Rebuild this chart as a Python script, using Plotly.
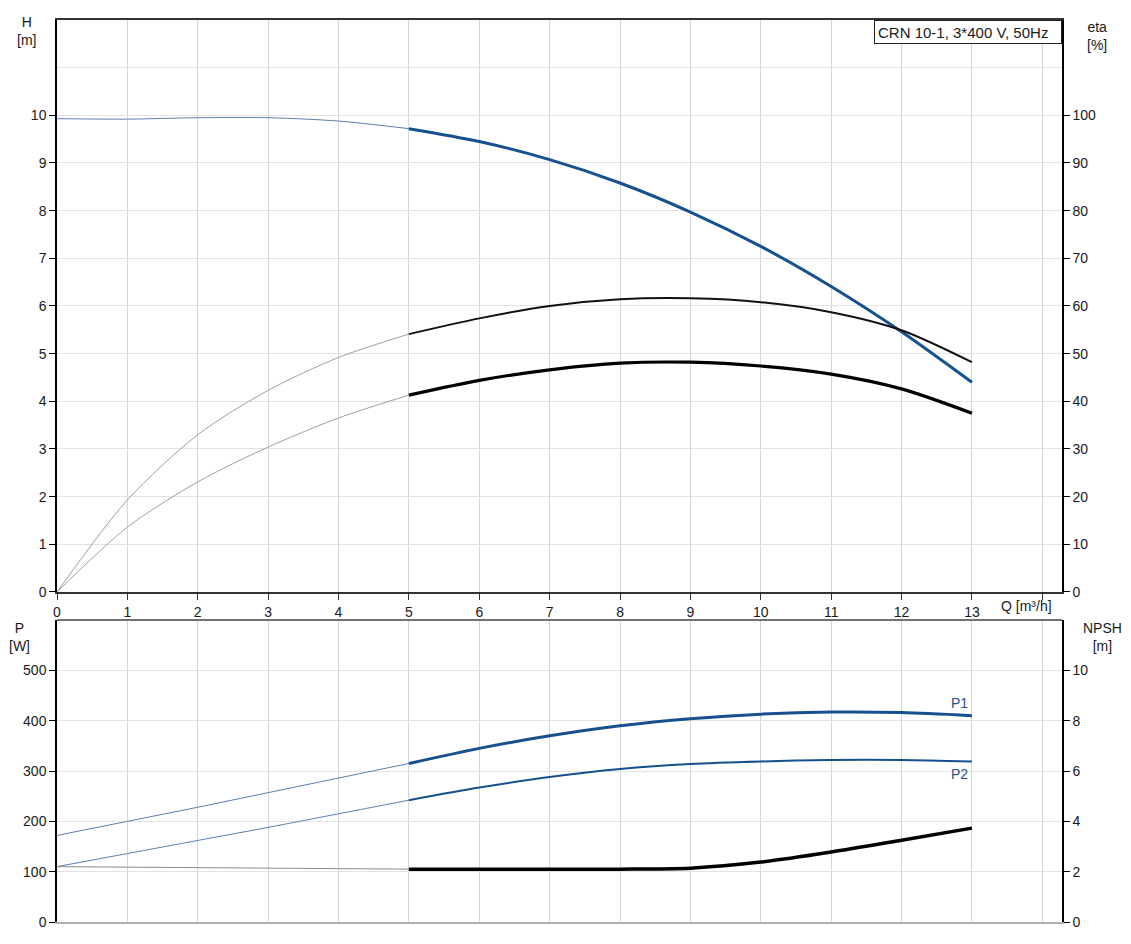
import plotly.graph_objects as go

# ---- data ----
Q = [0, 1, 2, 3, 4, 5, 6, 7, 8, 9, 10, 11, 12, 13]
H = [9.93, 9.92, 9.95, 9.95, 9.88, 9.72, 9.45, 9.07, 8.58, 7.97, 7.25, 6.41, 5.46, 4.40]
ETA_TOTAL = [0, 19.3, 33.0, 42.3, 49.2, 54.1, 57.4, 60.0, 61.4, 61.6, 60.8, 58.7, 54.9, 48.2]
ETA_PUMP = [0, 13.6, 23.1, 30.4, 36.5, 41.3, 44.4, 46.6, 48.0, 48.2, 47.4, 45.7, 42.6, 37.5]
P1 = [172, 200, 228, 257, 286, 315, 345, 370, 390, 404, 413, 417, 416, 410]
P2 = [110, 136, 162, 188, 215, 242, 267, 288, 304, 314, 319, 322, 322, 319]
NPSH = [2.20, 2.18, 2.16, 2.14, 2.12, 2.10, 2.10, 2.10, 2.10, 2.14, 2.38, 2.78, 3.25, 3.73]
SPLIT = 5  # index where the thin (extrapolated) part ends

X_TICKS = list(range(0, 15))
X_TICKTEXT = [str(v) for v in range(0, 14)] + [""]
H_TICKS = list(range(0, 11))
ETA_TICKS = list(range(0, 101, 10))
P_TICKS = list(range(0, 501, 100))
NPSH_TICKS = list(range(0, 11, 2))

BLUE = "#17508f"
FONT = "Liberation Sans, Arial, sans-serif"
TXT = "#1a1a1a"

fig = go.Figure()


def add_curve(y, xaxis, yaxis, thin_color, thin_w, thick_color, thick_w):
    fig.add_trace(go.Scatter(x=Q[:SPLIT + 1], y=y[:SPLIT + 1], mode="lines",
                             line=dict(color=thin_color, width=thin_w, shape="spline", smoothing=0.8),
                             xaxis=xaxis, yaxis=yaxis, showlegend=False, hoverinfo="skip"))
    fig.add_trace(go.Scatter(x=Q[SPLIT:], y=y[SPLIT:], mode="lines",
                             line=dict(color=thick_color, width=thick_w, shape="spline", smoothing=0.8),
                             xaxis=xaxis, yaxis=yaxis, showlegend=False, hoverinfo="skip"))


add_curve(ETA_TOTAL, "x", "y2", "#a0a0a0", 1, "#111111", 2)
add_curve(ETA_PUMP, "x", "y2", "#a0a0a0", 1, "#000000", 3.2)
add_curve(H, "x", "y", "#5a7fae", 1, BLUE, 3)
add_curve(P1, "x2", "y3", "#5a7fae", 1, BLUE, 3)
add_curve(P2, "x2", "y3", "#5a7fae", 1, BLUE, 2)
add_curve(NPSH, "x2", "y4", "#8a8a8a", 1, "#000000", 3.5)

tickfont = dict(family=FONT, size=14, color=TXT)
xgrid = "#d3d7da"
ygrid = "#e3e3e3"

# the page body adds an 8px offset, so the figure is sized to fit the window
fig.update_layout(
    width=1123, height=936,
    margin=dict(l=49, r=69, t=12, b=22),
    paper_bgcolor="white", plot_bgcolor="white",
    font=dict(family=FONT, size=14, color=TXT),
    showlegend=False,
    xaxis=dict(domain=[0, 1], anchor="y", range=[0, 14.28], tickmode="array",
               tickvals=X_TICKS, ticktext=X_TICKTEXT, ticks="outside", ticklen=6,
               tickcolor="#333", showline=True, linecolor="#333", linewidth=1.5,
               mirror=True, showgrid=True, gridcolor=xgrid, zeroline=False,
               tickfont=tickfont, automargin=False),
    yaxis=dict(domain=[0.3659, 1], anchor="x", range=[0, 12], tickmode="array",
               tickvals=H_TICKS, ticks="outside", ticklen=6, tickcolor="#000",
               showline=True, linecolor="#000", linewidth=1.5, showgrid=True,
               gridcolor=ygrid, zeroline=False, tickfont=tickfont, automargin=False,
               minor=dict(tickvals=[11], showgrid=True, gridcolor=ygrid, ticks="")),
    yaxis2=dict(overlaying="y", side="right", anchor="x", range=[0, 120],
                tickmode="array", tickvals=ETA_TICKS, ticks="outside", ticklen=6,
                tickcolor="#000", showline=True, linecolor="#000", linewidth=1.5,
                showgrid=False, zeroline=False, tickfont=tickfont, automargin=False),
    xaxis2=dict(domain=[0, 1], anchor="y3", matches="x", range=[0, 14.28],
                tickmode="array", tickvals=X_TICKS, showticklabels=False, ticks="",
                showline=True, linecolor="#b0b0b0", linewidth=2, showgrid=True,
                gridcolor=xgrid, zeroline=False, automargin=False),
    yaxis3=dict(domain=[0, 0.3348], anchor="x2", range=[0, 600], tickmode="array",
                tickvals=P_TICKS, ticks="outside", ticklen=6, tickcolor="#000",
                showline=True, linecolor="#000", linewidth=1.5, showgrid=True,
                gridcolor=ygrid, zeroline=False, tickfont=tickfont, automargin=False),
    yaxis4=dict(overlaying="y3", side="right", anchor="x2", range=[0, 12],
                tickmode="array", tickvals=NPSH_TICKS, ticks="outside", ticklen=6,
                tickcolor="#000", showline=True, linecolor="#000", linewidth=1.5,
                showgrid=False, zeroline=False, tickfont=tickfont, automargin=False),
)

# top border of lower panel
fig.add_shape(type="line", xref="x2 domain", yref="y3 domain", x0=0, x1=1, y0=1, y1=1,
              line=dict(color="#444", width=1.5))

ann = [
    dict(text="H<br>[m]", x=-0.0299, y=0.988),
    dict(text="eta<br>[%]", x=1.0348, y=0.982),
    dict(text="P<br>[W]", x=-0.037, y=0.316),
    dict(text="NPSH<br>[m]", x=1.040, y=0.316),
]
for a in ann:
    fig.add_annotation(text=a["text"], x=a["x"], y=a["y"], xref="paper", yref="paper",
                       xanchor="center", yanchor="middle", showarrow=False,
                       font=dict(family=FONT, size=14, color=TXT), align="center")

fig.add_annotation(text="Q [m³/h]", x=0.965, y=0.3503, xref="paper", yref="paper",
                   xanchor="center", yanchor="middle", showarrow=False,
                   font=dict(family=FONT, size=14, color=TXT))

fig.add_annotation(text="CRN 10-1, 3*400 V, 50Hz", x=1, y=1, xref="paper", yref="paper",
                   xanchor="right", yanchor="top", showarrow=False,
                   font=dict(family=FONT, size=15, color=TXT), bgcolor="white",
                   width=180, height=16, align="left", valign="middle",
                   bordercolor="#222", borderwidth=1, borderpad=3)

fig.add_annotation(text="P1", x=Q[-1], y=P1[-1], xref="x2", yref="y3", xanchor="right",
                   yanchor="bottom", yshift=3, xshift=-2, showarrow=False,
                   font=dict(family=FONT, size=14, color="#2c4f8a"))
fig.add_annotation(text="P2", x=Q[-1], y=P2[-1], xref="x2", yref="y3", xanchor="right",
                   yanchor="top", yshift=-3, xshift=-2, showarrow=False,
                   font=dict(family=FONT, size=14, color="#2c4f8a"))

fig.write_html("out.html")
